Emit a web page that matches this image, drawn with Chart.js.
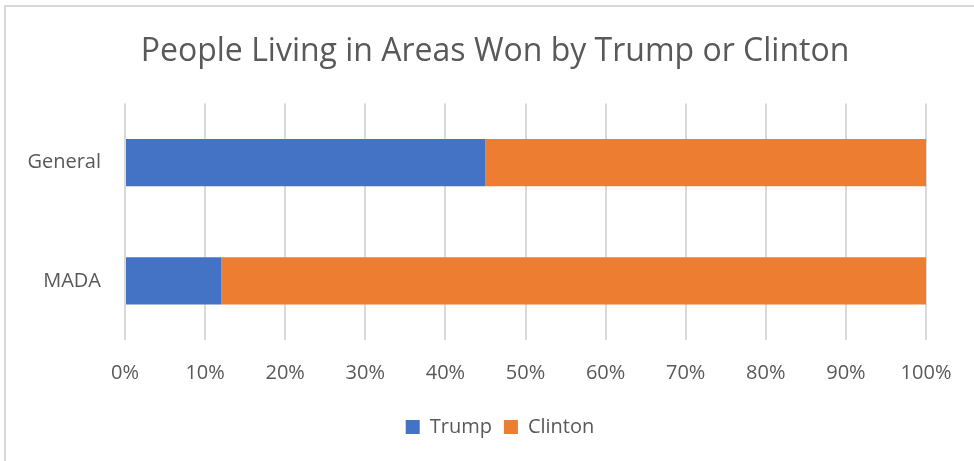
<!DOCTYPE html>
<html>
<head>
<meta charset="utf-8">
<script src="https://cdn.jsdelivr.net/npm/chart.js@4"></script>
<style>
  html, body { margin: 0; padding: 0; background: #fff; overflow: hidden; }
  #wrap { position: relative; width: 974px; height: 461px; }
  #frame { position: absolute; left: 4px; top: 5px; width: 1000px; height: 500px;
           border: 2px solid #d9d9d9; box-sizing: border-box; }
  canvas { position: absolute; left: 0; top: 0; }
</style>
</head>
<body>
<div id="wrap">
  <div id="frame"></div>
  <canvas id="areaChart" width="974" height="461"></canvas>
</div>
<script>
var categories = ['General', 'MADA'];
var trumpShare = [45, 12];
var clintonShare = [55, 88];
var xTicks = [0, 10, 20, 30, 40, 50, 60, 70, 80, 90, 100];

var textColor = '#595959';
var fontFamily = '"Open Sans", "Noto Sans", sans-serif';

// title and legend are centred on the whole frame, not on the padded box
var centreBoxes = {
    id: 'centreBoxes',
    afterLayout: function (chart) {
        chart.titleBlock.left += 22;
        chart.titleBlock.right += 22;
        chart.legend.left += 27;
        chart.legend.right += 27;
    }
};

var ctx = document.getElementById('areaChart').getContext('2d');
var areaChart = new Chart(ctx, {
    type: 'bar',
    data: {
        labels: categories,
        datasets: [{
                label: 'Trump',
                data: trumpShare,
                backgroundColor: '#4472C4',
                borderWidth: 0
            }, {
                label: 'Clinton',
                data: clintonShare,
                backgroundColor: '#ED7D31',
                borderWidth: 0
            }]
    },
    options: {
        indexAxis: 'y',
        responsive: false,
        animation: false,
        datasets: {
            bar: {
                categoryPercentage: 1,
                barPercentage: 0.4
            }
        },
        layout: {
            padding: { left: 20, right: 48, top: 14, bottom: 14 }
        },
        plugins: {
            title: {
                display: true,
                text: 'People Living in Areas Won by Trump or Clinton',
                color: textColor,
                font: { family: fontFamily, size: 32, weight: 'normal' },
                padding: { top: 19, bottom: 32 }
            },
            legend: {
                position: 'bottom',
                labels: {
                    color: textColor,
                    font: { family: fontFamily, size: 20 },
                    boxWidth: 14,
                    boxHeight: 14,
                    padding: 12
                }
            },
            tooltip: { enabled: false }
        },
        scales: {
            x: {
                stacked: true,
                min: 0,
                max: 100,
                afterBuildTicks: function (scale) {
                    scale.ticks = xTicks.map(function (v) { return { value: v }; });
                },
                afterFit: function (scale) {
                    scale.height = 65;
                },
                ticks: {
                    color: textColor,
                    font: { family: fontFamily, size: 20 },
                    padding: 21,
                    callback: function (v) { return v + '%'; }
                },
                grid: { color: '#d9d9d9', lineWidth: 2, drawTicks: false },
                border: { display: false }
            },
            y: {
                stacked: true,
                afterFit: function (scale) {
                    scale.width = 105;
                },
                ticks: {
                    color: textColor,
                    font: { family: fontFamily, size: 20 },
                    padding: 24
                },
                grid: { display: false, drawTicks: false },
                border: { display: false }
            }
        }
    },
    plugins: [centreBoxes]
});
</script>
</body>
</html>
